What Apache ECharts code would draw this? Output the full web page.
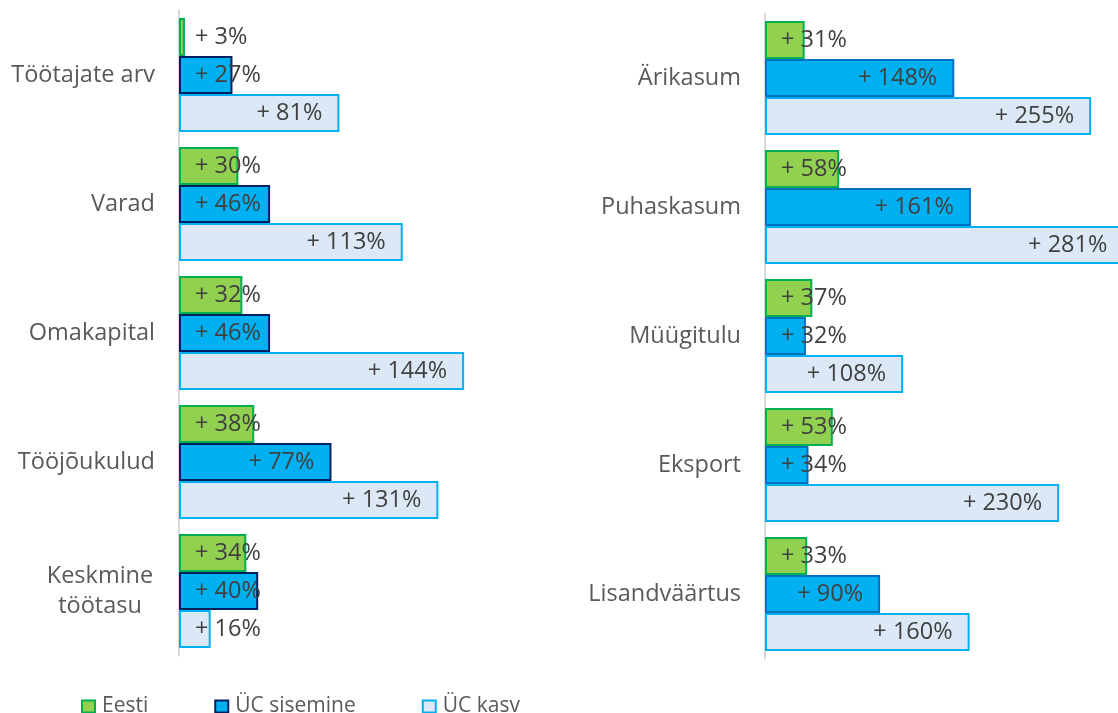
<!DOCTYPE html>
<html>
<head>
<meta charset="utf-8">
<script src="https://cdn.jsdelivr.net/npm/echarts@6/dist/echarts.min.js"></script>
<style>
html,body{margin:0;padding:0;background:#fff;}
#chart{width:1118px;height:713px;}
</style>
</head>
<body>
<div id="chart"></div>
<script>
// ---- data ----
const seriesNames = ['Eesti', 'ÜC sisemine', 'ÜC kasv'];
const leftCategories = ['Töötajate arv', 'Varad', 'Omakapital', 'Tööjõukulud', 'Keskmine\ntöötasu'];
const leftEesti = [3, 30, 32, 38, 34];
const leftSisemine = [27, 46, 46, 77, 40];
const leftKasv = [81, 113, 144, 131, 16];
const rightCategories = ['Ärikasum', 'Puhaskasum', 'Müügitulu', 'Eksport', 'Lisandväärtus'];
const rightEesti = [31, 58, 37, 53, 33];
const rightSisemine = [148, 161, 32, 34, 90];
const rightKasv = [255, 281, 108, 230, 160];

// ---- style ----
const FONT = '"Open Sans", "Noto Sans", sans-serif';
const LABEL_SIZE = 23.5;
const grids = [
  { left: 179, top: 10.5, width: 594, height: 645, max: 300 },
  { left: 765, top: 13.5, width: 353, height: 645, max: 276 }
];
const fills = ['#92d050', '#00b0f0', '#dce8f5'];
const borders = [['#00b050', '#002060', '#00b0f0'], ['#00b050', '#0070c0', '#00b0f0']];

const ctx = document.createElement('canvas').getContext('2d');
ctx.font = LABEL_SIZE + 'px ' + FONT;
function fmt(v) { return '+ ' + v + '%'; }

function makeData(values, gi) {
  const pxPerUnit = grids[gi].width / grids[gi].max;
  return values.map(v => {
    const barPx = v * pxPerUnit;
    const tw = ctx.measureText(fmt(v)).width;
    const fits = barPx - 17 - tw >= 16;
    return {
      value: v,
      label: fits ? { position: 'insideRight', distance: 17 } : { position: 'insideLeft', distance: 16 }
    };
  });
}

function yAxis(cats, gi) {
  return {
    type: 'category', gridIndex: gi, data: cats, inverse: true,
    axisLine: { show: true, lineStyle: { color: '#d9d9d9', width: 2 } },
    axisTick: { show: false },
    axisLabel: {
      margin: 24, color: '#595959', fontFamily: FONT, fontSize: LABEL_SIZE,
      formatter: function (val) {
        if (val.indexOf('\n') >= 0) {
          return val.split('\n').map(s => '{m|' + s + '}').join('\n');
        }
        return val;
      },
      rich: { m: { width: 110, align: 'center', lineHeight: 30, fontSize: LABEL_SIZE, fontFamily: FONT, color: '#595959' } }
    }
  };
}

function xAxis(gi) {
  return { type: 'value', gridIndex: gi, min: 0, max: grids[gi].max, show: false };
}

const panels = [[leftEesti, leftSisemine, leftKasv], [rightEesti, rightSisemine, rightKasv]];
const series = [];
panels.forEach((vals, gi) => {
  vals.forEach((arr, si) => {
    series.push({
      type: 'bar', name: seriesNames[si], xAxisIndex: gi, yAxisIndex: gi,
      barGap: '0%', barCategoryGap: '11.6%', clip: false,
      itemStyle: { color: fills[si], borderColor: borders[gi][si], borderWidth: 2 },
      label: {
        show: true, color: '#404040', fontFamily: FONT, fontSize: LABEL_SIZE,
        formatter: p => fmt(p.value)
      },
      emphasis: { disabled: true },
      data: makeData(arr, gi)
    });
  });
});

const chart = echarts.init(document.getElementById('chart'), null, { renderer: 'canvas' });
chart.setOption({
  animation: false,
  backgroundColor: '#ffffff',
  grid: grids.map(g => ({ left: g.left, top: g.top, width: g.width, height: g.height })),
  xAxis: [xAxis(0), xAxis(1)],
  yAxis: [yAxis(leftCategories, 0), yAxis(rightCategories, 1)],
  legend: {
    data: seriesNames, left: 81, top: 696, padding: 0, icon: 'rect',
    itemWidth: 13, itemHeight: 12, itemGap: 66,
    textStyle: { color: '#595959', fontFamily: FONT, fontSize: 21, padding: [0, 0, 0, 2] }
  },
  series: series
});
</script>
</body>
</html>
